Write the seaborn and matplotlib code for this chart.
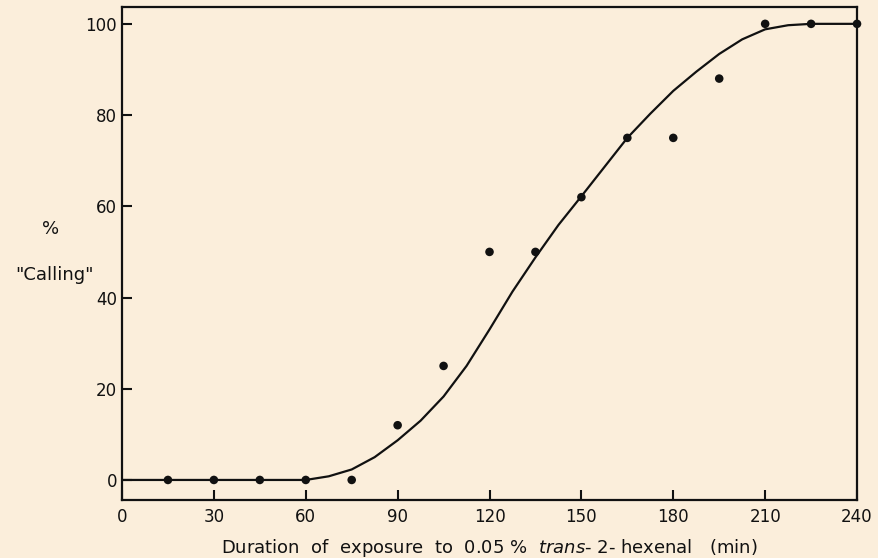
import matplotlib.pyplot as plt
import seaborn as sns
import pandas as pd

# observed points
minutes = [15, 30, 45, 60, 75, 90, 105, 120, 135, 150, 165, 180, 195, 210, 225, 240]
calling = [0, 0, 0, 0, 0, 12, 25, 50, 50, 62, 75, 75, 88, 100, 100, 100]

# fitted curve
curve_x = [0, 15, 30, 45, 60, 67.5, 75, 82.5, 90, 97.5, 105, 112.5, 120, 127.5,
           135, 142.5, 150, 157.5, 165, 172.5, 180, 187.5, 195, 202.5, 210,
           217.5, 225, 240]
curve_y = [0, 0, 0, 0, 0, 0.8, 2.3, 5.0, 8.7, 13.0, 18.3, 25.0, 33.0, 41.3,
           48.8, 55.9, 62.2, 68.6, 75.0, 80.3, 85.3, 89.5, 93.4, 96.6, 98.8,
           99.7, 100, 100]

x_ticks = [0, 30, 60, 90, 120, 150, 180, 210, 240]
y_ticks = [0, 20, 40, 60, 80, 100]

pts = pd.DataFrame({"minutes": minutes, "calling": calling})
fit = pd.DataFrame({"minutes": curve_x, "calling": curve_y})

bg = "#fbeedb"
sns.set_style("ticks")
plt.rcParams["font.family"] = ["DejaVu Sans"]

fig = plt.figure(figsize=(8.79, 5.58), dpi=100, facecolor=bg)
ax = fig.add_axes([0.1388, 0.1039, 0.975 - 0.1388, 0.9875 - 0.1039])
ax.set_facecolor(bg)

sns.lineplot(data=fit, x="minutes", y="calling", color="#111111", lw=1.6, ax=ax)
sns.scatterplot(data=pts, x="minutes", y="calling", color="#111111", s=38,
                edgecolor="none", ax=ax, zorder=3, clip_on=False)

ax.set_xlim(0, 240)
ax.set_ylim(-4.4, 103.7)
ax.set_xticks(x_ticks)
ax.set_yticks(y_ticks)
ax.tick_params(direction="in", length=7, width=1.5, color="#111111",
               labelsize=12, labelcolor="#111111")
ax.tick_params(axis="x", pad=6)
for s in ax.spines.values():
    s.set_linewidth(1.6)
    s.set_color("#111111")

ax.set_xlabel("Duration  of  exposure  to  0.05 %  $\\it{trans}$- 2- hexenal   (min)",
              fontsize=13, color="#111111", labelpad=8)
ax.set_ylabel("")
fig.text(0.057, 0.59, "%", fontsize=13, ha="center", va="center", color="#111111")
fig.text(0.062, 0.507, "\"Calling\"", fontsize=13, ha="center", va="center", color="#111111")

fig.savefig("out.png", dpi=100, facecolor=bg)
